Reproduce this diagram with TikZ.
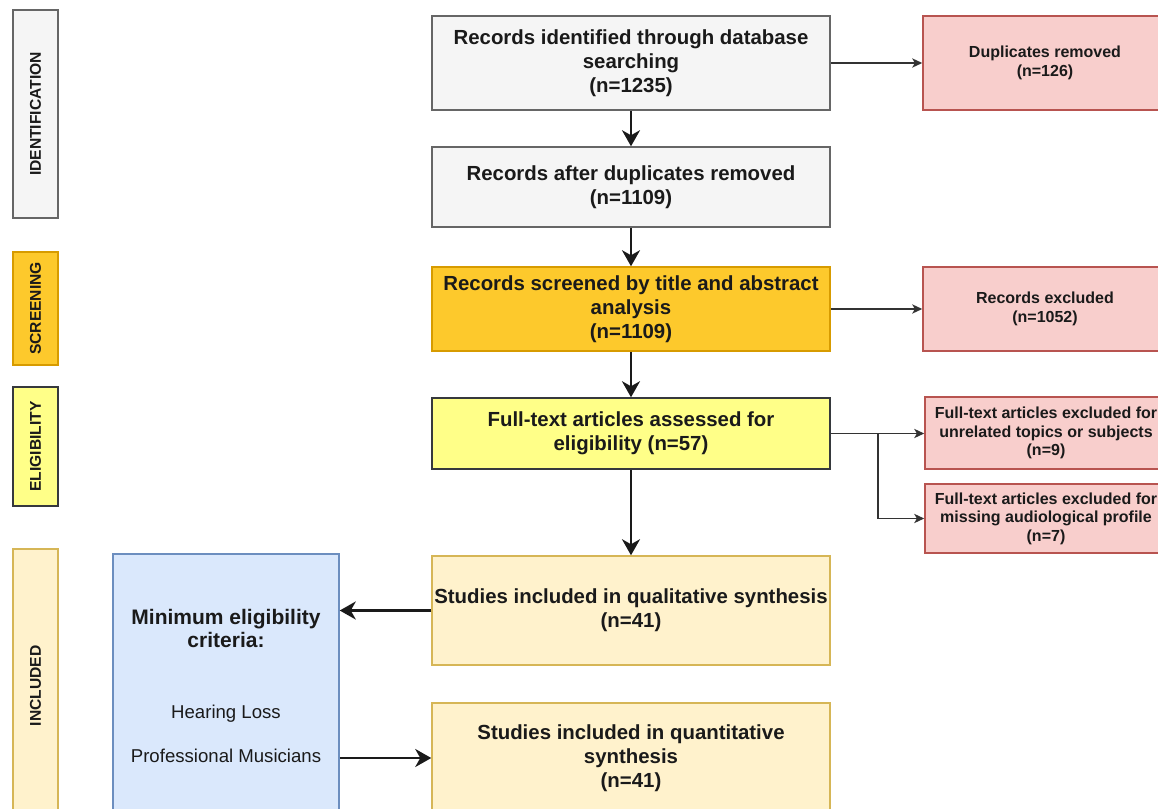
\documentclass[tikz,border=0pt]{standalone}
\usepackage{fontspec}
\setmainfont{Liberation Sans}
\usetikzlibrary{arrows.meta}
\definecolor{grayfill}{HTML}{F5F5F5}
\definecolor{grayline}{HTML}{666666}
\definecolor{orangefill}{HTML}{FDC92C}
\definecolor{orangeline}{HTML}{D79B00}
\definecolor{yellowfill}{HTML}{FFFF88}
\definecolor{yellowline}{HTML}{36393D}
\definecolor{creamfill}{HTML}{FFF2CC}
\definecolor{creamline}{HTML}{D6B656}
\definecolor{redfill}{HTML}{F8CECC}
\definecolor{redline}{HTML}{B85450}
\definecolor{bluefill}{HTML}{DAE8FC}
\definecolor{blueline}{HTML}{6C8EBF}
\definecolor{ink}{HTML}{1A1A1A}
\definecolor{thinink}{HTML}{333333}
\tikzset{
  box/.style={rectangle, line width=0.75pt, align=center, inner xsep=1pt, inner ysep=2pt, text=ink,
    font=\fontsize{10.2}{12}\selectfont\bfseries},
  mainbox/.style={box, minimum width=199pt},
  sidebox/.style={box, minimum width=122pt, font=\fontsize{8}{9.2}\selectfont\bfseries},
  phase/.style={box, rotate=90, minimum height=22.5pt, font=\fontsize{7.8}{9}\selectfont\bfseries},
  graybox/.style={fill=grayfill, draw=grayline},
  orangebox/.style={fill=orangefill, draw=orangeline},
  yellowbox/.style={fill=yellowfill, draw=yellowline},
  creambox/.style={fill=creamfill, draw=creamline},
  redbox/.style={fill=redfill, draw=redline},
  bluebox/.style={fill=bluefill, draw=blueline},
  thick arrow/.style={draw=ink, line width=1.3pt, -{Stealth[length=8pt, width=9pt, inset=2.5pt]}},
  thin arrow/.style={draw=thinink, line width=0.75pt, -{Stealth[length=5pt, width=4.6pt, inset=1.3pt]}},
}
\begin{document}
\begin{tikzpicture}[x=0.5pt, y=-0.5pt]
\useasboundingbox (0,0) rectangle (1158,809);
\clip (0,0) rectangle (1158,809);
\fill[white] (0,0) rectangle (1158,809);

% phase labels
\node[phase, graybox, minimum width=104pt] (lid) at (35.5,114) {IDENTIFICATION};
\node[phase, orangebox, minimum width=56.5pt] (lsc) at (35.5,308.5) {SCREENING};
\node[phase, yellowbox, minimum width=59.5pt] (lel) at (35.5,446.5) {ELIGIBILITY};
\node[phase, creambox, minimum width=137pt] (lin) at (35.5,686) {INCLUDED};

% main column
\node[mainbox, graybox, minimum height=47pt] (id) at (631,63)
  {Records identified through database\\searching\\(n=1235)};
\node[mainbox, graybox, minimum height=40pt] (after) at (631,187)
  {Records after duplicates removed\\(n=1109)};
\node[mainbox, orangebox, minimum height=42pt] (screen) at (631,309)
  {Records screened by title and abstract\\analysis\\(n=1109)};
\node[mainbox, yellowbox, minimum height=35.5pt] (full) at (631,433.5)
  {Full-text articles assessed for\\eligibility (n=57)};
\node[mainbox, creambox, minimum height=54.5pt] (qual) at (631,610.5)
  {Studies included in qualitative synthesis\\(n=41)};
\node[mainbox, creambox, minimum height=55pt] (quant) at (631,758)
  {Studies included in quantitative\\synthesis\\(n=41)};

% side boxes
\node[sidebox, redbox, minimum height=47pt] (dup) at (1045,63)
  {Duplicates removed\\(n=126)};
\node[sidebox, redbox, minimum height=42pt] (rexcl) at (1045,309)
  {Records excluded\\(n=1052)};
\node[sidebox, redbox, minimum width=121pt, minimum height=36pt] (fex1) at (1046,433)
  {Full-text articles excluded for\\unrelated topics or subjects\\(n=9)};
\node[sidebox, redbox, minimum width=121pt, minimum height=34.5pt] (fex2) at (1046,518.5)
  {Full-text articles excluded for\\missing audiological profile\\(n=7)};

% criteria box
\node[box, bluebox, minimum width=113pt, minimum height=132pt, font=\fontsize{10.5}{11.5}\selectfont\bfseries] (crit) at (226,686)
  {Minimum eligibility\\criteria:\\[24pt]
   {\mdseries\fontsize{9.3}{11.5}\selectfont Hearing Loss}\\[10.5pt]
   {\mdseries\fontsize{9.3}{11.5}\selectfont Professional Musicians}};

% connectors
\draw[thick arrow] (id.south) -- (after.north);
\draw[thick arrow] (after.south) -- (screen.north);
\draw[thick arrow] (screen.south) -- (full.north);
\draw[thick arrow] (full.south) -- (qual.north);
\draw[thin arrow] (id.east) -- (dup.west);
\draw[thin arrow] (screen.east) -- (rexcl.west);
\draw[thin arrow] (full.east) -- (full.east -| fex1.west);
\coordinate (junc) at (878,433.5);
\draw[thin arrow] (junc) |- (fex2.west);
\draw[thick arrow] (qual.west) -- (qual.west -| crit.east);
\draw[thick arrow] (crit.east |- quant.west) -- (quant.west);
\end{tikzpicture}
\end{document}
